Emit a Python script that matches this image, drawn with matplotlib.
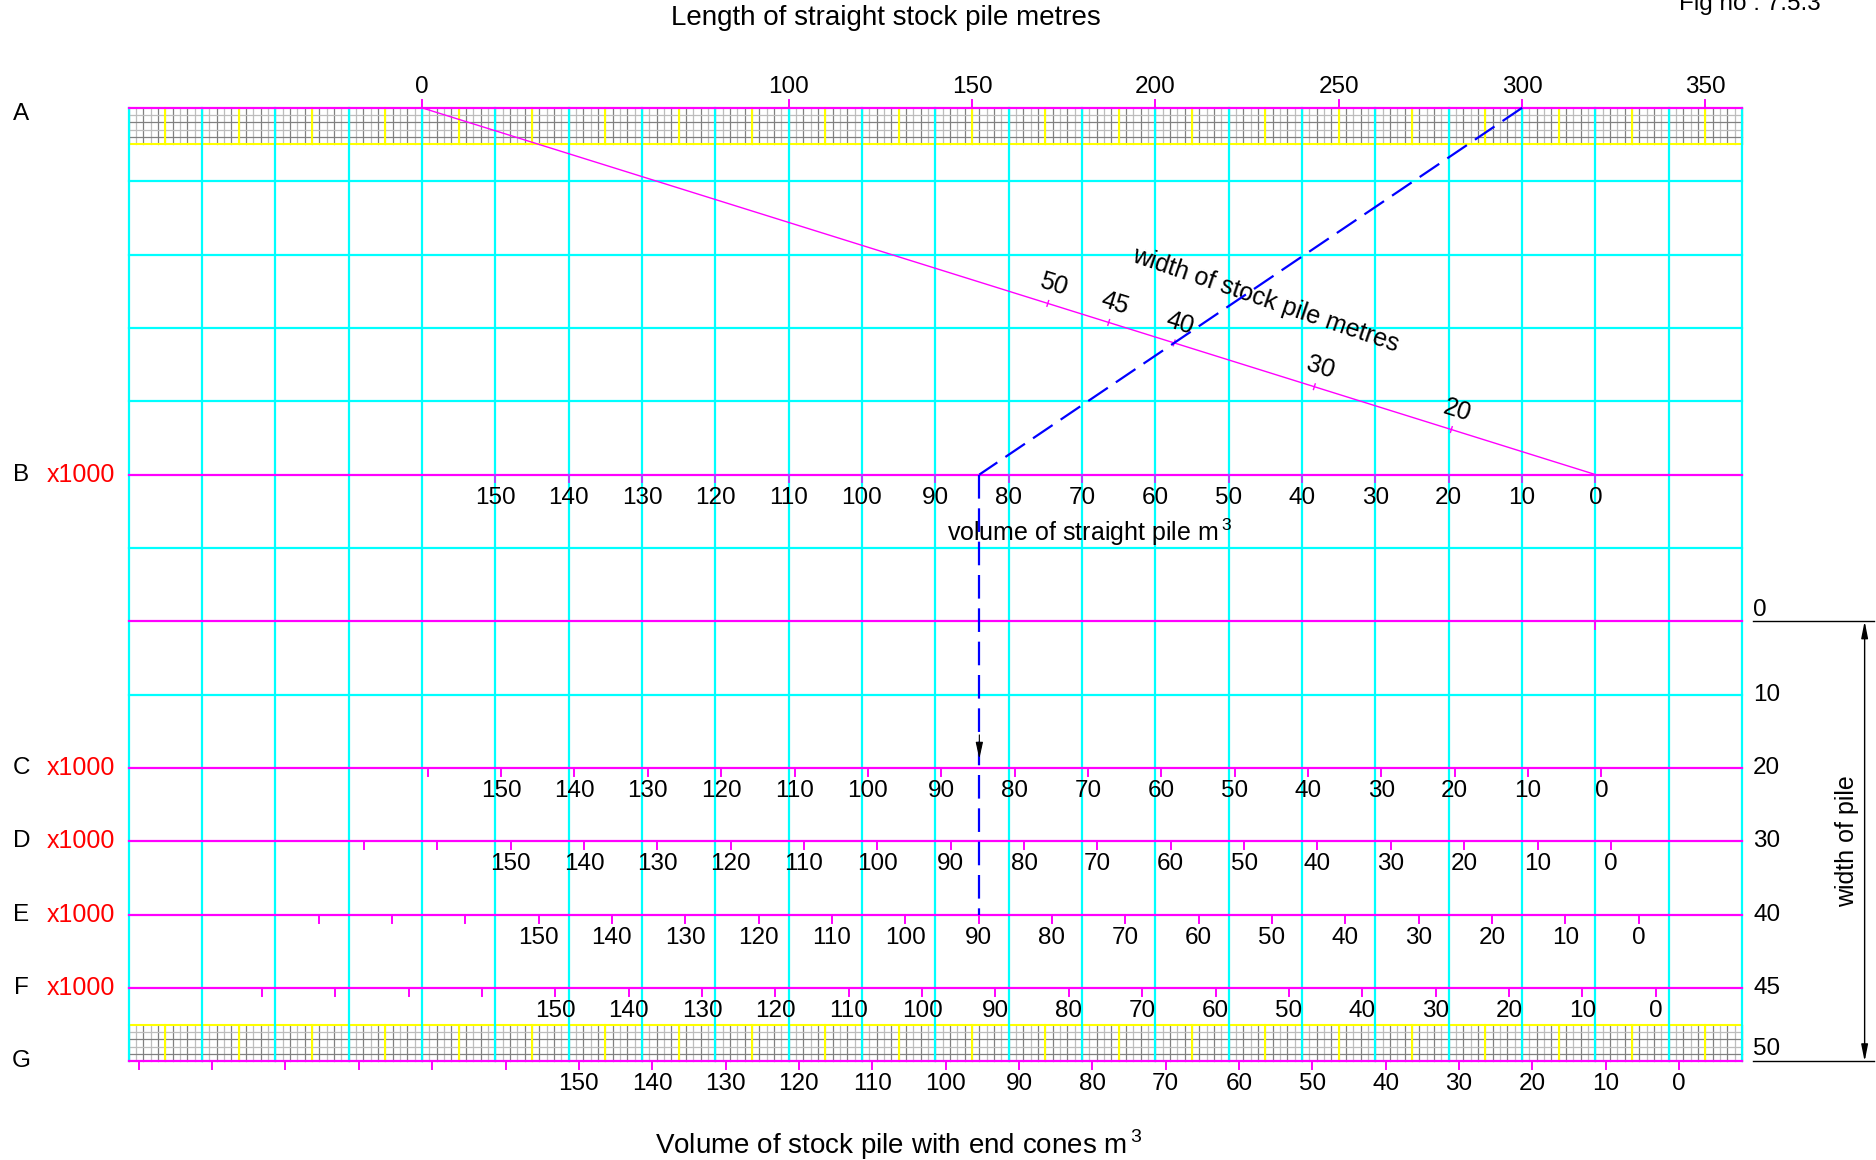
import numpy as np
import matplotlib
matplotlib.use("Agg")
import matplotlib.pyplot as plt

plt.rcParams['font.family'] = ['Liberation Sans', 'DejaVu Sans']
plt.rcParams['mathtext.fontset'] = 'custom'
plt.rcParams['mathtext.rm'] = 'Liberation Sans'
plt.rcParams['lines.scale_dashes'] = False

# scale A : length of straight stock pile (metres)
length_ticks = [0, 100, 150, 200, 250, 300, 350]

# scale B : volume of straight pile (x1000 m3)
straight_vol_labels = [150, 140, 130, 120, 110, 100, 90, 80, 70, 60, 50, 40, 30, 20, 10, 0]

# scales C..G : volume with end cones (x1000 m3), one per pile width
cone_rows = ['C', 'D', 'E', 'F', 'G']
cone_row_width = [20, 30, 40, 45, 50]
cone_row_offset = [0.8, 2.1, 5.9, 8.2, 11.4]     # cone volume shift of each scale, x1000 m3
cone_row_tick_max = [160, 170, 180, 190, 210]
cone_vol_labels = [150, 140, 130, 120, 110, 100, 90, 80, 70, 60, 50, 40, 30, 20, 10, 0]

# diagonal : width of stock pile (metres)
diag_width_ticks = [50, 45, 40, 30, 20]
pile_factor = 0.175        # m3 per metre length per m2 of width^2 (repose ~35 deg)

# right hand scale : width of pile
side_width = [0, 10, 20, 30, 40, 45, 50]

# worked example (blue dashed)
ex_length = 300
ex_width = 40
ex_straight_vol = 84
ex_total_vol = 90

# layout (chart units: 1 unit = 1 metre on scale A)
B_ZERO = 320
VOL_STEP = 2               # units per 1000 m3
ROW_A, ROW_B = 0, 100
ROW_W0 = 140               # row of width 0, then one row every 20 units
ROW_GAP = 20
GX0, GX1 = -80, 360
CYAN, MAG, YEL = '#00FFFF', '#FF00FF', '#FFFF00'
FS = 17.5

fig = plt.figure(figsize=(18.76, 11.6), dpi=100)
ax = fig.add_axes([0, 0, 1, 1])
ax.set_xlim(-115.05, 396.5)
ax.set_ylim(286.9, -29.4)
ax.axis('off')

width_row = {w: ROW_W0 + ROW_GAP * i for i, w in enumerate(side_width)}


def band(v0, v1, edge):
    for k, u in enumerate(np.arange(GX0, GX1 + 1, 2)):
        ax.plot([u, u], [v0, v1], color='#808080' if k % 2 == 0 else '#bdbdbd', lw=0.9, zorder=1)
    for k, v in enumerate(np.arange(v0 + 2, v1, 2)):
        ax.plot([GX0, GX1], [v, v], color='#808080' if k % 2 else '#bdbdbd', lw=0.9, zorder=1)
    for u in np.arange(GX0 + 10, GX1, 20):
        ax.plot([u, u], [v0, v1], color=YEL, lw=1.5, zorder=2)
    ax.plot([GX0, GX1], [edge, edge], color=YEL, lw=1.5, zorder=2)


band(0, 10, 10)
band(250, 260, 250)

# cyan grid
for u in np.arange(GX0, GX1 + 1, 20):
    ax.plot([u, u], [0, 260], color=CYAN, lw=1.6, zorder=3)
for v in [20, 40, 60, 80, 120, 160]:
    ax.plot([GX0, GX1], [v, v], color=CYAN, lw=1.6, zorder=3)

# magenta scale rows
for v in [ROW_A, ROW_B] + [width_row[w] for w in [0] + cone_row_width]:
    ax.plot([GX0, GX1], [v, v], color=MAG, lw=1.6, zorder=4)

# scale A
for L in length_ticks:
    ax.plot([L, L], [0, -2.2], color=MAG, lw=1.4, zorder=4)
    ax.text(L, -5.8, str(L), ha='center', va='center', fontsize=FS)

# scale B
for V in straight_vol_labels:
    x = B_ZERO - VOL_STEP * V
    ax.plot([x, x], [ROW_B, ROW_B + 2], color='#b040ff', lw=1.4, zorder=4)
    ax.text(x, ROW_B + 6.3, str(V), ha='center', va='center', fontsize=FS)
ax.plot([B_ZERO, B_ZERO], [ROW_W0, ROW_W0 + 2], color=MAG, lw=1.4, zorder=4)
ax.text(182, 115.7, 'volume of straight pile m$^{\\,3}$', ha='center', va='center', fontsize=18)

# scales C..G
for r, w, off, tmax in zip(cone_rows, cone_row_width, cone_row_offset, cone_row_tick_max):
    v = width_row[w]
    x0 = B_ZERO + VOL_STEP * off
    for V in np.arange(0, tmax + 1, 10):
        x = x0 - VOL_STEP * V
        ax.plot([x, x], [v, v + 2.2], color=MAG, lw=1.4, zorder=4)
    for V in cone_vol_labels:
        ax.text(x0 - VOL_STEP * V, v + 6.3, str(V), ha='center', va='center', fontsize=FS)

# diagonal width scale
ax.plot([0, B_ZERO], [ROW_A, ROW_B], color=MAG, lw=1.0, zorder=5)
ang = np.degrees(np.arctan2(ROW_B - ROW_A, B_ZERO))
d = np.array([B_ZERO, ROW_B - ROW_A], float)
d /= np.hypot(*d)
nrm = np.array([d[1], -d[0]])


def diag_point(w):
    t = 1.0 / (1.0 + VOL_STEP * pile_factor * w ** 2 / 1000.0)
    return np.array([B_ZERO * t, ROW_A + (ROW_B - ROW_A) * t])


for w in diag_width_ticks:
    p = diag_point(w)
    a, b = p - nrm * 0.8, p + nrm * 0.8
    ax.plot([a[0], b[0]], [a[1], b[1]], color=MAG, lw=1.0, zorder=5)
    q = p + nrm * 5.5
    ax.text(q[0], q[1], str(w), ha='center', va='center', fontsize=FS + 0.5, rotation=-ang)
ax.text(230, 52.3, 'width of stock pile metres', ha='center', va='center',
        fontsize=18, rotation=-ang - 1.5)

# worked example
xb = B_ZERO - VOL_STEP * ex_straight_vol
ax.plot([ex_length, xb], [ROW_A, ROW_B], color='blue', lw=1.6, ls=(0, (17, 7)), zorder=6)
ax.plot([xb, xb], [ROW_B, width_row[ex_width]], color='blue', lw=1.6, ls=(0, (17, 7)), zorder=6)
ax.annotate('', xy=(xb, 177.5), xytext=(xb, 171),
            arrowprops=dict(arrowstyle='-|>,head_length=1.0,head_width=0.22', color='black',
                            lw=0.8, shrinkA=0, shrinkB=0), zorder=7)

# row letters
row_letters = [('A', 1.6), ('B', ROW_B)] + [(r, width_row[w]) for r, w in zip(cone_rows, cone_row_width)]
for r, v in row_letters:
    ax.text(-109.2, v, r, ha='center', va='center', fontsize=FS)
    if r not in ('A', 'G'):
        ax.text(-93.0, v, 'x1000', ha='center', va='center', fontsize=FS + 0.5, color='red')

# right hand width-of-pile scale
for w in side_width:
    v = width_row[w]
    if w == 0:
        v -= 3
    elif w == 50:
        v -= 3.5
    ax.text(363, v, str(w), ha='left', va='center', fontsize=FS)
ax.plot([363, 396], [width_row[0]] * 2, color='black', lw=1.0)
ax.plot([363, 396], [width_row[50]] * 2, color='black', lw=1.0)
ax.annotate('', xy=(393.4, width_row[0]), xytext=(393.4, width_row[50]),
            arrowprops=dict(arrowstyle='<|-|>,head_length=1.0,head_width=0.2', color='black',
                            lw=1.0, shrinkA=0, shrinkB=0))
ax.text(388.5, 200, 'width of pile', ha='center', va='center', fontsize=18, rotation=90)

# titles
ax.text(126.6, -24.5, 'Length of straight stock pile metres', ha='center', va='center', fontsize=20)
ax.text(130, 282.7, 'Volume of stock pile with end cones m$^{\\,3}$', ha='center', va='center', fontsize=20)
ax.text(342.7, -28.4, 'Fig no : 7.5.3', ha='left', va='center', fontsize=FS)

fig.savefig('out.png', dpi=100)
